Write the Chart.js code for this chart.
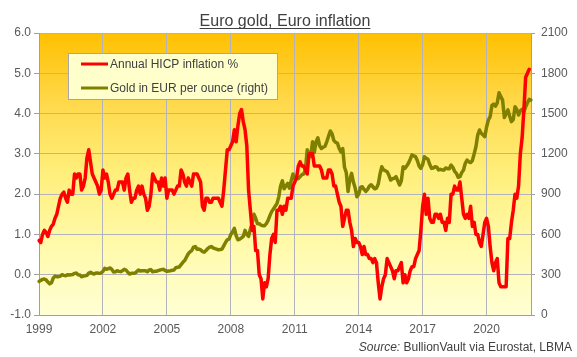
<!DOCTYPE html>
<html><head><meta charset="utf-8">
<script src="https://cdn.jsdelivr.net/npm/chart.js@4.4.1/dist/chart.umd.min.js"></script>
<style>html,body{margin:0;padding:0;background:#fff;}#wrap{width:577px;height:357px;position:relative;}</style>
</head><body><div id="wrap"><canvas id="c" width="577" height="357"></canvas></div>
<script>
const startYear = 1999;
const tickYears = ['1999','2002','2005','2008','2011','2014','2017','2020'];
const chartTitle = 'Euro gold, Euro inflation';
const seriesNames = ['Annual HICP inflation %', 'Gold in EUR per ounce (right)'];
const sourceLabel = 'Source:';
const sourceText = ' BullionVault via Eurostat, LBMA';

// Annual HICP inflation %, monthly Jan 1999 - Jan 2022
const hicp = [
 0.85,0.8,1.0,1.1,1.05,0.95,1.1,1.2,1.25,1.4,1.5,1.7,
 1.9,2.0,2.05,1.9,1.8,2.1,2.0,2.0,2.5,2.4,2.5,2.5,
 2.1,2.2,2.4,2.9,3.1,2.8,2.5,2.4,2.3,2.2,2.0,2.1,
 2.6,2.4,2.5,2.3,2.0,1.9,2.0,2.1,2.1,2.3,2.3,2.3,
 2.1,2.4,2.5,2.1,1.8,1.9,1.9,2.1,2.2,2.0,2.2,2.0,
 1.9,1.6,1.7,2.0,2.5,2.4,2.3,2.3,2.1,2.4,2.2,2.4,
 1.9,2.1,2.1,2.1,2.0,2.1,2.2,2.2,2.6,2.5,2.3,2.2,
 2.4,2.3,2.2,2.5,2.5,2.5,2.4,2.3,1.7,1.6,1.9,1.9,
 1.8,1.8,1.9,1.9,1.9,1.9,1.8,1.7,2.1,2.6,3.1,3.1,
 3.2,3.3,3.6,3.3,3.7,4.0,4.1,3.8,3.6,3.2,2.1,1.6,
 1.1,1.2,0.6,0.6,0.0,-0.1,-0.6,-0.2,-0.3,-0.1,0.5,0.9,
 1.0,0.8,1.6,1.6,1.7,1.5,1.7,1.6,1.9,1.9,1.9,2.2,
 2.3,2.4,2.7,2.8,2.7,2.7,2.6,2.5,3.0,3.0,3.0,2.7,
 2.7,2.7,2.7,2.6,2.4,2.4,2.4,2.6,2.6,2.5,2.2,2.2,
 2.0,1.8,1.7,1.2,1.4,1.6,1.6,1.3,1.1,0.7,0.9,0.8,
 0.8,0.7,0.5,0.7,0.5,0.5,0.4,0.4,0.3,0.4,0.3,-0.2,
 -0.6,-0.3,-0.1,0.0,0.4,0.3,0.2,0.1,-0.1,0.1,0.1,0.2,
 0.3,-0.2,0.0,-0.2,-0.1,0.1,0.2,0.2,0.4,0.5,0.6,1.1,
 1.7,2.0,1.5,1.9,1.4,1.3,1.3,1.5,1.5,1.4,1.5,1.3,
 1.3,1.1,1.4,1.3,2.0,2.0,2.2,2.1,2.1,2.3,1.9,1.5,
 1.4,1.5,1.4,1.7,1.2,1.3,1.0,1.0,0.8,0.7,1.0,1.3,
 1.4,1.2,0.7,0.3,0.1,0.3,0.4,-0.2,-0.3,-0.3,-0.3,-0.3,
 0.9,0.9,1.3,1.6,2.0,1.9,2.2,3.0,3.4,4.1,4.9,5.0,
 5.1
];

// Gold price in EUR per ounce, monthly Jan 1999 - Feb 2022
const goldEUR = [
 250,258,265,268,262,245,232,240,275,290,285,285,
 290,300,295,292,300,298,300,302,310,312,300,298,
 285,290,292,295,312,318,310,305,312,312,310,312,
 325,348,340,345,350,340,320,322,330,325,323,330,
 340,335,318,305,310,310,312,322,335,327,330,330,
 330,322,335,338,322,325,325,330,335,338,340,332,
 325,328,330,333,335,352,355,358,375,392,405,430,
 455,470,480,505,510,490,492,485,472,468,480,495,
 505,510,500,495,490,485,488,490,515,540,560,565,
 600,620,645,590,560,565,575,585,630,600,585,640,
 680,750,720,680,680,670,665,665,680,705,740,770,
 790,810,830,880,960,1000,940,960,980,945,1000,1050,
 1015,1020,1015,1030,1045,1050,1080,1230,1200,1180,1290,1210,
 1290,1320,1260,1240,1250,1255,1290,1330,1370,1350,1300,1285,
 1280,1240,1215,1240,1100,1060,920,1010,1055,990,945,880,
 900,950,955,935,920,935,960,970,955,940,945,975,
 1050,1104,1080,1075,1067,1040,1005,1015,1018,1030,1000,968,
 1000,1104,1092,1110,1130,1160,1192,1185,1179,1150,1110,1092,
 1120,1179,1167,1160,1120,1092,1095,1104,1100,1080,1085,1080,
 1080,1095,1090,1090,1117,1100,1070,1055,1025,1030,1060,1080,
 1130,1154,1140,1135,1150,1200,1253,1340,1378,1353,1340,1328,
 1400,1452,1477,1560,1570,1555,1580,1655,1626,1600,1470,1500,
 1527,1480,1440,1455,1551,1530,1489,1520,1532,1514,1550,1580,
 1606,1600
];

const months = goldEUR.map((_, i) => (startYear + Math.floor(i / 12)) + '-' + String(i % 12 + 1).padStart(2, '0'));

const FONT = '"Liberation Sans", Arial, sans-serif';
const GRID = '#B3B3BD';
const AXIS = '#A0A0A0';
const TICKTXT = '#595959';

const bgPlugin = {
  id: 'bg',
  beforeDraw(chart) {
    const { ctx, chartArea: a } = chart;
    const g = ctx.createLinearGradient(0, a.top, 0, a.bottom);
    g.addColorStop(0, '#FFC000');
    g.addColorStop(0.25, '#FFD94C');
    g.addColorStop(0.5, '#FFEF7C');
    g.addColorStop(0.75, '#FFFAAA');
    g.addColorStop(1, '#FFFFD4');
    ctx.save();
    ctx.fillStyle = g;
    ctx.fillRect(a.left, a.top, a.right - a.left, a.bottom - a.top);
    ctx.restore();
  }
};

const decoPlugin = {
  id: 'deco',
  afterDraw(chart) {
    const { ctx, chartArea: a } = chart;
    ctx.save();
    // title
    ctx.font = '16px ' + FONT;
    ctx.fillStyle = '#404040';
    ctx.textAlign = 'center';
    ctx.textBaseline = 'alphabetic';
    const cx = (a.left + a.right) / 2;
    ctx.fillText(chartTitle, cx, 26);
    const tw = ctx.measureText(chartTitle).width;
    ctx.strokeStyle = '#404040';
    ctx.lineWidth = 1;
    ctx.beginPath();
    ctx.moveTo(cx - tw / 2, 28.5);
    ctx.lineTo(cx + tw / 2, 28.5);
    ctx.stroke();
    // legend
    const lx = 68, ly = 53, lw = 209, lh = 46;
    ctx.fillStyle = '#FFFFCC';
    ctx.fillRect(lx, ly, lw, lh);
    ctx.strokeStyle = '#A6A6A6';
    ctx.strokeRect(lx + 0.5, ly + 0.5, lw, lh);
    const ds = chart.data.datasets;
    const rows = [64, 88];
    ctx.font = '12px ' + FONT;
    ctx.textAlign = 'left';
    ctx.textBaseline = 'middle';
    ds.forEach((d, i) => {
      ctx.strokeStyle = d.borderColor;
      ctx.lineWidth = 3;
      ctx.beginPath();
      ctx.moveTo(81, rows[i]);
      ctx.lineTo(108, rows[i]);
      ctx.stroke();
      ctx.fillStyle = '#404040';
      ctx.fillText(d.label, 110, rows[i] + 1);
    });
    // source
    ctx.textBaseline = 'alphabetic';
    ctx.font = '12px ' + FONT;
    const w2 = ctx.measureText(sourceText).width;
    ctx.fillStyle = '#404040';
    ctx.textAlign = 'right';
    ctx.fillText(sourceText, 572, 351);
    ctx.font = 'italic 12px ' + FONT;
    ctx.fillText(sourceLabel, 572 - w2, 351);
    ctx.restore();
  }
};

new Chart(document.getElementById('c'), {
  type: 'line',
  data: {
    labels: months,
    datasets: [
      { label: seriesNames[0], data: hicp, yAxisID: 'y', borderColor: '#FF0000', borderWidth: 3.5, pointRadius: 0, tension: 0, borderJoinStyle: 'round', borderCapStyle: 'round' },
      { label: seriesNames[1], data: goldEUR, yAxisID: 'y1', borderColor: '#808000', borderWidth: 3.5, pointRadius: 0, tension: 0, borderJoinStyle: 'round', borderCapStyle: 'round' }
    ]
  },
  options: {
    responsive: false,
    animation: false,
    devicePixelRatio: 1,
    layout: { padding: { top: 33, left: 0, right: 0, bottom: 0 } },
    plugins: { legend: { display: false }, tooltip: { enabled: false }, title: { display: false } },
    scales: {
      x: {
        type: 'category',
        offset: false,
        afterFit(s) { s.height = 42; },
        grid: { color: GRID, lineWidth: 1, drawTicks: false },
        border: { display: true, color: AXIS },
        ticks: {
          autoSkip: false, maxRotation: 0, minRotation: 0, padding: 7,
          color: TICKTXT, font: { family: FONT, size: 12 },
          callback(value) {
            const lab = this.getLabelForValue(value);
            const [yr, m] = lab.split('-');
            return (m === '01' && tickYears.includes(yr)) ? yr : null;
          }
        }
      },
      y: {
        position: 'left', min: -1, max: 6,
        afterFit(s) { s.width = 39; },
        grid: { color: GRID, lineWidth: 1, drawTicks: true, tickLength: 5, tickColor: AXIS },
        border: { display: true, color: AXIS },
        ticks: { stepSize: 1, padding: 3, color: TICKTXT, font: { family: FONT, size: 12 }, callback: v => v.toFixed(1) }
      },
      y1: {
        position: 'right', min: 0, max: 2100,
        afterFit(s) { s.width = 46; },
        grid: { drawOnChartArea: false, drawTicks: true, tickLength: 4, tickColor: AXIS },
        border: { display: true, color: AXIS },
        ticks: { stepSize: 300, padding: 6, color: TICKTXT, font: { family: FONT, size: 12 }, callback: v => String(v) }
      }
    }
  },
  plugins: [bgPlugin, decoPlugin]
});
</script></body></html>
